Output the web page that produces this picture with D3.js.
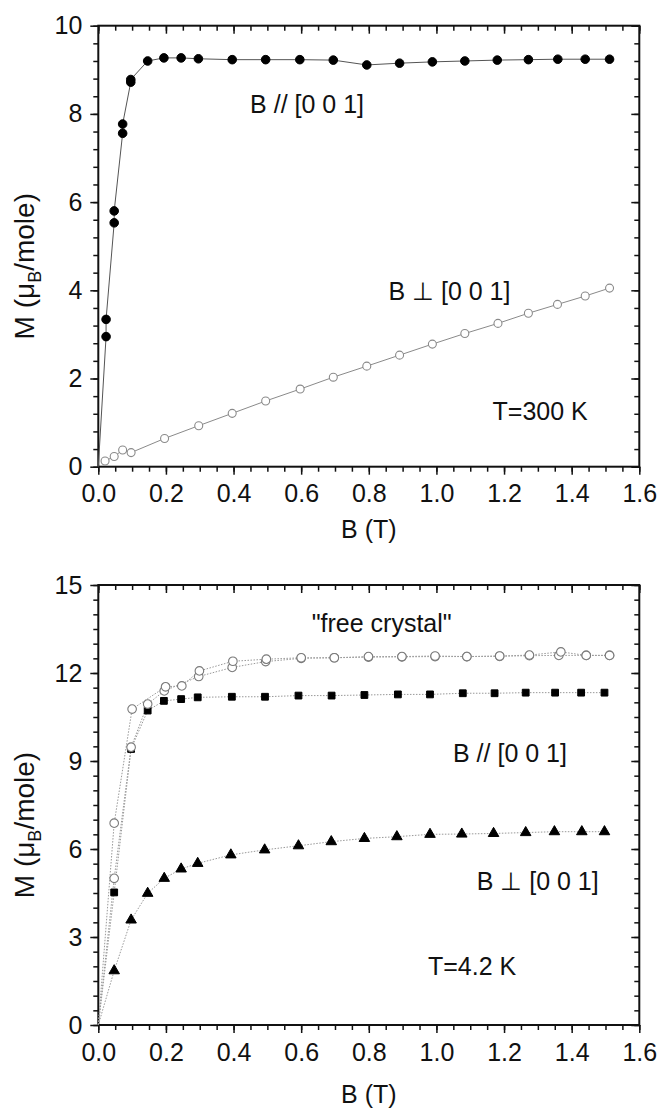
<!DOCTYPE html>
<html>
<head>
<meta charset="utf-8">
<script src="https://cdn.jsdelivr.net/npm/d3@7"></script>
<style>
  body { margin: 0; background: #fff; }
  svg { display: block; font-family: "Liberation Sans", Arial, sans-serif; }
</style>
</head>
<body>
<div id="chart"></div>
<script>
// ---- data ----
const origin = { B: 0, M: 0 };

// T = 300 K, B // [0 0 1] (filled circles)
const hotParB = [0.023, 0.023, 0.047, 0.047, 0.072, 0.072, 0.096, 0.096, 0.146, 0.194, 0.245, 0.296, 0.396, 0.495, 0.596, 0.695, 0.794, 0.891, 0.988, 1.084, 1.180, 1.272, 1.359, 1.440, 1.512];
const hotParM = [2.95, 3.34, 5.53, 5.80, 7.56, 7.77, 8.72, 8.78, 9.20, 9.27, 9.27, 9.25, 9.23, 9.23, 9.23, 9.22, 9.11, 9.15, 9.18, 9.20, 9.22, 9.23, 9.24, 9.24, 9.24];

// T = 300 K, B perp [0 0 1] (open circles)
const hotPerpB = [0.020, 0.047, 0.072, 0.097, 0.196, 0.297, 0.396, 0.495, 0.597, 0.695, 0.794, 0.891, 0.988, 1.084, 1.182, 1.272, 1.358, 1.440, 1.512];
const hotPerpM = [0.13, 0.23, 0.38, 0.32, 0.64, 0.93, 1.21, 1.49, 1.76, 2.03, 2.28, 2.53, 2.78, 3.02, 3.25, 3.48, 3.68, 3.87, 4.05];

// T = 4.2 K, "free crystal" (open circles, two runs)
const freeAB = [0.047, 0.100, 0.199, 0.247, 0.299, 0.398, 0.497, 0.600, 0.698, 0.799, 0.898, 0.996, 1.090, 1.187, 1.275, 1.368, 1.443, 1.512];
const freeAM = [6.88, 10.77, 11.53, 11.56, 12.07, 12.40, 12.47, 12.52, 12.52, 12.56, 12.56, 12.58, 12.56, 12.58, 12.61, 12.72, 12.60, 12.60];
const freeBB = [0.047, 0.097, 0.146, 0.195, 0.297, 0.396, 0.495, 0.600, 0.698, 0.799, 0.898, 0.996, 1.090, 1.187, 1.275, 1.362, 1.443, 1.512];
const freeBM = [5.00, 9.47, 10.94, 11.39, 11.88, 12.19, 12.39, 12.50, 12.52, 12.54, 12.55, 12.56, 12.56, 12.57, 12.59, 12.60, 12.60, 12.60];

// T = 4.2 K, B // [0 0 1] (filled squares)
const coldParB = [0.047, 0.097, 0.146, 0.194, 0.245, 0.294, 0.395, 0.493, 0.592, 0.690, 0.787, 0.886, 0.981, 1.078, 1.172, 1.264, 1.351, 1.428, 1.497];
const coldParM = [4.52, 9.41, 10.72, 11.05, 11.11, 11.17, 11.19, 11.19, 11.23, 11.23, 11.25, 11.27, 11.27, 11.31, 11.31, 11.33, 11.33, 11.33, 11.33];

// T = 4.2 K, B perp [0 0 1] (filled triangles)
const coldPerpB = [0.047, 0.097, 0.146, 0.195, 0.245, 0.294, 0.392, 0.492, 0.592, 0.689, 0.787, 0.883, 0.981, 1.075, 1.169, 1.264, 1.349, 1.430, 1.497];
const coldPerpM = [1.85, 3.58, 4.49, 5.00, 5.32, 5.51, 5.80, 5.97, 6.11, 6.25, 6.36, 6.42, 6.50, 6.51, 6.53, 6.56, 6.59, 6.59, 6.59];

// axes
const xMajor = [0, 0.2, 0.4, 0.6, 0.8, 1.0, 1.2, 1.4, 1.6];
const topYMajor = [0, 2, 4, 6, 8, 10];
const botYMajor = [0, 3, 6, 9, 12, 15];

// annotations [text, B, M] (left edge / baseline in data units)
const topNotes = [["B // [0 0 1]", 0.449, 8.02], ["B \u22A5 [0 0 1]", 0.858, 3.78], ["T=300 K", 1.166, 1.06]];
const botNotes = [["\"free crystal\"", 0.631, 13.41], ["B // [0 0 1]", 1.049, 8.98], ["B \u22A5 [0 0 1]", 1.119, 4.60], ["T=4.2 K", 0.975, 1.70]];

const zip = (xs, ys) => xs.map((b, i) => ({ B: b, M: ys[i] }));

const W = 659, H = 1112;
const svg = d3.select('#chart').append('svg').attr('width', W).attr('height', H);

const FONT = 25;

function panel(opt) {
  const x = d3.scaleLinear().domain([0, 1.6]).range([98.3, 639.3]);
  const y = d3.scaleLinear().domain(opt.yDomain).range([opt.bottom, opt.top]);
  const g = svg.append('g');
  const minorX = d3.range(0, 1.6001, 0.05);
  const minorY = d3.range(opt.yDomain[0], opt.yDomain[1] + 0.001, opt.yMinor);

  const axes = [
    [d3.axisBottom(x).tickValues(minorX).tickSize(5).tickFormat(''), `translate(0,${opt.bottom})`],
    [d3.axisBottom(x).tickValues(xMajor).tickSize(8).tickPadding(10).tickFormat(d3.format('.1f')), `translate(0,${opt.bottom})`],
    [d3.axisTop(x).tickValues(minorX).tickSize(-5).tickFormat(''), `translate(0,${opt.top})`],
    [d3.axisTop(x).tickValues(xMajor).tickSize(-8).tickFormat(''), `translate(0,${opt.top})`],
    [d3.axisLeft(y).tickValues(minorY).tickSize(5).tickFormat(''), 'translate(98.3,0)'],
    [d3.axisLeft(y).tickValues(opt.yMajor).tickSize(8).tickPadding(8).tickFormat(d3.format('d')), 'translate(98.3,0)'],
    [d3.axisRight(y).tickValues(minorY).tickSize(-5).tickFormat(''), 'translate(639.3,0)'],
    [d3.axisRight(y).tickValues(opt.yMajor).tickSize(-8).tickFormat(''), 'translate(639.3,0)']
  ];
  axes.forEach(([ax, tr]) => {
    const a = g.append('g').attr('transform', tr).call(ax);
    a.select('.domain').remove();
    a.selectAll('line').attr('stroke', '#111').attr('stroke-width', 1.5);
    a.selectAll('text').attr('font-size', FONT).attr('font-family', '"Liberation Sans", Arial, sans-serif').attr('fill', '#111');
  });

  g.append('rect')
    .attr('x', 98.3).attr('y', opt.top)
    .attr('width', 541).attr('height', opt.bottom - opt.top)
    .attr('fill', 'none').attr('stroke', '#111').attr('stroke-width', 2);

  const line = d3.line().x(d => x(d.B)).y(d => y(d.M));

  opt.series.forEach(s => {
    const pts = s.fromOrigin ? [origin].concat(s.data) : s.data;
    g.append('path')
      .attr('d', line(pts))
      .attr('fill', 'none')
      .attr('stroke', s.lineColor)
      .attr('stroke-width', s.lineWidth || 1)
      .attr('stroke-dasharray', s.dash || null);
  });

  opt.series.forEach(s => {
    const sym = d3.symbol().type(s.symbol).size(s.size);
    g.append('g').selectAll('path')
      .data(s.data)
      .join('path')
      .attr('transform', d => `translate(${x(d.B)},${y(d.M)})`)
      .attr('d', sym)
      .attr('fill', s.fill)
      .attr('stroke', s.stroke)
      .attr('stroke-width', s.strokeWidth || 1);
  });

  // labels
  g.selectAll('text.note')
    .data(opt.notes)
    .join('text')
    .attr('class', 'note')
    .attr('x', d => x(d[1]))
    .attr('y', d => y(d[2]))
    .attr('font-size', FONT)
    .attr('fill', '#111')
    .text(d => d[0]);

  g.append('text')
    .attr('x', (98.3 + 639.3) / 2)
    .attr('y', opt.bottom + opt.xTitleGap)
    .attr('text-anchor', 'middle')
    .attr('font-size', FONT)
    .attr('fill', '#111')
    .text('B (T)');

  // y title sits a little below the axis centre in the original
  const yt = g.append('text')
    .attr('transform', `translate(33.5,${(opt.top + opt.bottom) / 2 + 20}) rotate(-90)`)
    .attr('text-anchor', 'middle')
    .attr('font-size', 28)
    .attr('fill', '#111');
  yt.append('tspan').text('M (\u03BC');
  yt.append('tspan').attr('font-size', 18).attr('dy', 7).text('B');
  yt.append('tspan').attr('dy', -7).text('/mole)');
}

panel({
  top: 25.7, bottom: 466.7, yDomain: [0, 10], yMajor: topYMajor, yMinor: 0.4, xTitleGap: 71.3,
  notes: topNotes,
  series: [
    { data: zip(hotPerpB, hotPerpM), symbol: d3.symbolCircle, size: 50, fill: '#fff', stroke: '#8a8a8a', strokeWidth: 1.1, lineColor: '#8a8a8a' },
    { data: zip(hotParB, hotParM), fromOrigin: true, symbol: d3.symbolCircle, size: 58, fill: '#000', stroke: '#000', lineColor: '#555' }
  ]
});

panel({
  top: 585, bottom: 1025, yDomain: [0, 15], yMajor: botYMajor, yMinor: 0.5, xTitleGap: 78,
  notes: botNotes,
  series: [
    { data: zip(coldPerpB, coldPerpM), fromOrigin: true, symbol: d3.symbolTriangle, size: 48, fill: '#000', stroke: '#000', lineColor: '#999', dash: '1.5,1.5' },
    { data: zip(coldParB, coldParM), fromOrigin: true, symbol: d3.symbolSquare, size: 46, fill: '#000', stroke: '#000', lineColor: '#999', dash: '1.5,1.5' },
    { data: zip(freeBB, freeBM), fromOrigin: true, symbol: d3.symbolCircle, size: 58, fill: '#fff', stroke: '#7a7a7a', strokeWidth: 1.1, lineColor: '#999', dash: '1.5,1.5' },
    { data: zip(freeAB, freeAM), fromOrigin: true, symbol: d3.symbolCircle, size: 58, fill: '#fff', stroke: '#7a7a7a', strokeWidth: 1.1, lineColor: '#999', dash: '1.5,1.5' }
  ]
});
</script>
</body>
</html>
